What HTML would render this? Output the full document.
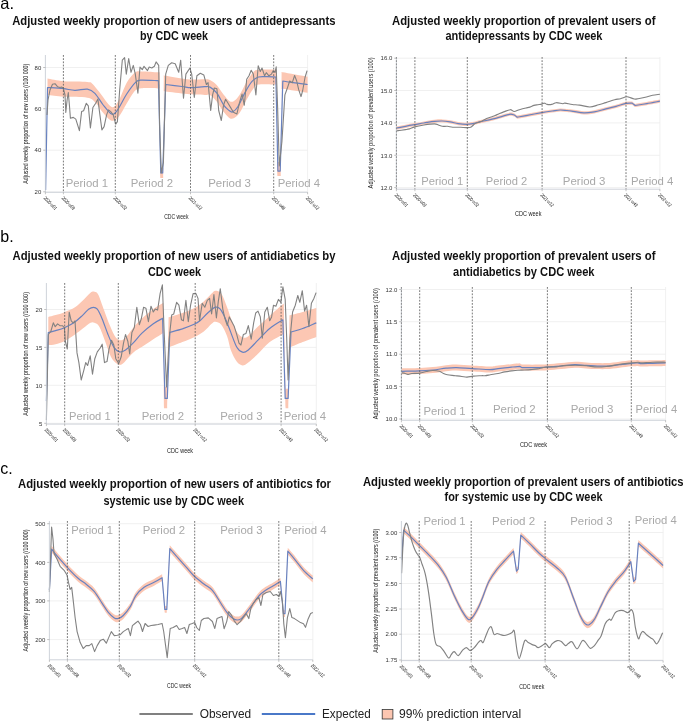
<!DOCTYPE html>
<html><head><meta charset="utf-8"><style>html,body{margin:0;padding:0;background:#fff;width:685px;height:721px;overflow:hidden;position:relative}</style></head>
<body>
<svg width="685" height="721" viewBox="0 0 685 721" font-family='"Liberation Sans", sans-serif' style="position:absolute;left:0;top:0;will-change:transform">
<text x="0.3" y="9" font-size="16.5" fill="#000" text-anchor="start">a.</text>
<text x="0.3" y="242.3" font-size="16" fill="#000" text-anchor="start">b.</text>
<text x="0.3" y="473.6" font-size="16" fill="#000" text-anchor="start">c.</text>
<text x="12.2" y="24.6" font-size="12" font-weight="bold" fill="#111" text-anchor="start" textLength="323.3" lengthAdjust="spacingAndGlyphs">Adjusted weekly proportion of new users of antidepressants</text>
<text x="139.9" y="39.6" font-size="12" font-weight="bold" fill="#111" text-anchor="start" textLength="68.2" lengthAdjust="spacingAndGlyphs">by CDC week</text>
<text x="392" y="24.6" font-size="12" font-weight="bold" fill="#111" text-anchor="start" textLength="263.5" lengthAdjust="spacingAndGlyphs">Adjusted weekly proportion of prevalent users of</text>
<text x="445.5" y="39.6" font-size="12" font-weight="bold" fill="#111" text-anchor="start" textLength="157" lengthAdjust="spacingAndGlyphs">antidepressants by CDC week</text>
<text x="12.5" y="259.7" font-size="12" font-weight="bold" fill="#111" text-anchor="start" textLength="323" lengthAdjust="spacingAndGlyphs">Adjusted weekly proportion of new users of antidiabetics by</text>
<text x="148" y="276" font-size="12" font-weight="bold" fill="#111" text-anchor="start" textLength="53" lengthAdjust="spacingAndGlyphs">CDC week</text>
<text x="392" y="260.2" font-size="12" font-weight="bold" fill="#111" text-anchor="start" textLength="263.5" lengthAdjust="spacingAndGlyphs">Adjusted weekly proportion of prevalent users of</text>
<text x="453" y="275.5" font-size="12" font-weight="bold" fill="#111" text-anchor="start" textLength="141.5" lengthAdjust="spacingAndGlyphs">antidiabetics by CDC week</text>
<text x="18" y="488.2" font-size="12" font-weight="bold" fill="#111" text-anchor="start" textLength="313" lengthAdjust="spacingAndGlyphs">Adjusted weekly proportion of new users of antibiotics for</text>
<text x="103.5" y="504.5" font-size="12" font-weight="bold" fill="#111" text-anchor="start" textLength="140.5" lengthAdjust="spacingAndGlyphs">systemic use by CDC week</text>
<text x="363" y="485.7" font-size="12" font-weight="bold" fill="#111" text-anchor="start" textLength="320.5" lengthAdjust="spacingAndGlyphs">Adjusted weekly proportion of prevalent users of antibiotics</text>
<text x="444.5" y="501.2" font-size="12" font-weight="bold" fill="#111" text-anchor="start" textLength="158" lengthAdjust="spacingAndGlyphs">for systemic use by CDC week</text>
<line x1="45.4" y1="191.8" x2="307.6" y2="191.8" stroke="#ececec" stroke-width="0.8"/>
<line x1="45.4" y1="150.2" x2="307.6" y2="150.2" stroke="#ececec" stroke-width="0.8"/>
<line x1="45.4" y1="108.7" x2="307.6" y2="108.7" stroke="#ececec" stroke-width="0.8"/>
<line x1="45.4" y1="67.5" x2="307.6" y2="67.5" stroke="#ececec" stroke-width="0.8"/>
<line x1="307.6" y1="55" x2="307.6" y2="192.3" stroke="#ececec" stroke-width="0.8"/>
<path d="M47.5,78.6 C50.2,79 57.1,80.8 63.7,81.3 C70.3,81.8 82.5,81.5 87.3,81.9 C92.1,82.3 90.6,82.2 92.6,83.9 C94.6,85.6 95.9,88 99.1,91.8 C102.3,95.6 108.3,105.5 111.6,106.9 C114.9,108.3 116.3,104.3 118.8,100.3 C121.3,96.3 124,87.4 126.7,82.7 C129.5,78 132.7,74.2 135.3,72.3 C137.9,70.4 138.5,71.5 142.3,71.5 C146.1,71.5 155,72.2 157.9,72.3 C160.8,72.4 159.4,72.3 159.7,72.3 L159.7,72.3 C159.8,88.2 160.2,151.8 160.3,167.7 L160.3,167.7 C160.8,167.7 162.7,167.7 163.2,167.7 L163.2,167.7 C163.3,152.4 163.7,91.1 163.8,75.8 L163.8,75.8 C164.1,75.8 161.8,75.2 165.7,75.8 C169.6,76.4 180.8,78.7 187.3,79.3 C193.8,79.9 200.9,79.2 204.7,79.3 C208.5,79.4 208,79.1 210,80.1 C212,81.1 214.6,82.8 216.9,85.3 C219.2,87.8 221.4,92.2 223.9,94.9 C226.4,97.7 229.1,101.8 231.7,101.8 C234.3,101.8 237.1,98.2 239.5,94.9 C241.9,91.6 244.1,85.7 246.4,81.9 C248.7,78.1 251.3,74.3 253.3,72.3 C255.3,70.3 254.7,70.1 258.5,69.7 C262.3,69.3 272.8,69.7 275.9,69.7 C278.9,69.7 276.6,69.7 276.8,69.7 L276.8,69.7 C276.9,85.1 277.3,146.6 277.4,162 L277.4,162 C278,162 280.2,162 280.8,162 L280.8,162 C280.9,147.1 281.5,87.2 281.6,72.3 L281.6,72.3 C281.8,72.3 278.5,71.6 282.8,72.3 C287.1,73 303.5,76 307.6,76.7 L307.6,92.8 C303.5,92.1 287.1,89.5 282.8,88.8 C278.5,88.1 281.8,88.8 281.6,88.8 L281.6,88.8 C281.5,103.3 280.9,161.5 280.8,176 L280.8,176 C280.2,176 278,176 277.4,176 L277.4,176 C277.3,160.8 276.9,99.8 276.8,84.5 L276.8,84.5 C276.6,84.5 278.9,84.5 275.9,84.5 C272.8,84.5 262.3,83.8 258.5,84.5 C254.7,85.2 255.3,86.2 253.3,88.8 C251.3,91.4 248.7,96 246.4,100.1 C244.1,104.1 241.9,110 239.5,113.1 C237.1,116.2 234.3,118.9 231.7,118.8 C229.1,118.7 226.4,115 223.9,112.2 C221.4,109.4 219.2,104.7 216.9,101.8 C214.6,98.9 212,96.1 210,94.9 C208,93.8 208.5,95.1 204.7,94.9 C200.9,94.8 193.8,94.6 187.3,94 C180.8,93.4 169.6,91.8 165.7,91.4 C161.8,91 164.1,91.4 163.8,91.4 L163.8,91.4 C163.7,105.8 163.3,163.6 163.2,178 L163.2,178 C162.7,178 160.8,178 160.3,178 L160.3,178 C160.2,163.1 159.8,103.4 159.7,88.5 L159.7,88.5 C159.4,88.5 160.8,88.5 157.9,88.5 C155,88.5 146.1,87.9 142.3,88.2 C138.5,88.5 137.9,88 135.3,90.5 C132.7,93 129.5,99.1 126.7,103.5 C124,107.9 121.3,113.9 118.8,116.8 C116.3,119.7 114.2,121.4 111.6,120.7 C109,120 105.8,115.9 103.1,112.8 C100.4,109.7 97.8,104.8 95.2,102.3 C92.6,99.8 92.5,98.6 87.3,97.7 C82,96.8 70.3,97.2 63.7,96.8 C57.1,96.4 50.2,95.4 47.5,95.1 Z" fill="#fcc7b3"/>
<path d="M45.6,190 C45.9,172.9 47.2,104.6 47.5,87.5 L47.5,87.5 C50.1,87.7 58.7,88.2 63.3,88.7 C67.9,89.2 70.9,90.2 74.9,90.3 C78.9,90.4 84.1,88.7 87.4,89.2 C90.7,89.7 92.3,90.7 94.9,93.3 C97.5,95.9 100.4,101.5 103.2,105 C106,108.5 109.4,112.9 111.5,114.1 C113.6,115.3 114,114.2 115.7,112.4 C117.4,110.6 119.7,106.4 121.5,103.3 C123.3,100.2 124.4,97.4 126.7,94 C129,90.6 133,85 135.3,82.7 C137.6,80.4 136.7,80.4 140.5,80.1 C144.3,79.8 155.4,80.6 158.4,80.7 L158.4,80.7 C158.8,96.1 160.4,157.5 160.8,172.9 L160.8,172.9 C161.1,172.9 162.4,172.9 162.7,172.9 L162.7,172.9 C163.2,158.2 165.2,99.2 165.7,84.5 L165.7,84.5 C168.4,84.8 177.9,86 182.1,86.5 C186.3,87 187,87.6 190.8,87.6 C194.6,87.6 201.5,86.8 204.7,86.7 C207.9,86.6 208,86 210,87.1 C212,88.2 214.6,90.1 216.9,93.1 C219.2,96.1 221.9,102.4 223.9,105.3 C225.9,108.2 227.7,109.4 229.1,110.5 C230.5,111.6 231.1,112.5 232.5,111.9 C233.9,111.3 235.7,110.1 237.7,107 C239.7,103.9 242.4,97.3 244.7,93.1 C247,88.9 249.3,84.6 251.6,81.9 C253.9,79.2 255.9,77.9 258.5,77 C261.1,76.1 264.3,76.7 267.2,76.7 C270.1,76.7 274.4,77 275.9,77 L275.9,77 C276.2,92.7 277.6,155.4 277.9,171.1 L277.9,171.1 C278.3,171.1 279.8,171.1 280.2,171.1 L280.2,171.1 C280.6,156.1 282.4,96 282.8,81 L282.8,81 C284.5,81.3 289.1,82.1 293.2,82.7 C297.3,83.3 305.2,84.2 307.6,84.5" fill="none" stroke="#6882c0" stroke-width="1.2" stroke-linejoin="round"/>
<polyline points="47,115 48,100 50,90 52.5,84.2 55,83.7 57.5,86.7 60,87.5 61.6,87 63.3,88.3 65,95 65.8,112.4 67.1,100 68.3,92.5 69.6,107.5 70.4,118.3 73.3,117.4 75.8,119.1 79.4,130.7 81.6,111.6 83.6,110.8 86.3,103.3 88.3,105.8 90.4,127.9 92.9,107.5 95.7,103.3 97.9,99.1 99.9,114.9 101.9,129.9 104.1,126.6 106.6,114.9 108.5,109.9 110.7,111.6 113.2,114.9 115.7,124.1 117.4,121.6 119.7,89.7 122.3,60.2 124.6,57.6 126.3,74.1 128.7,58.5 131,72.3 133.3,65.4 135.3,74.1 137.9,93.1 140,67.1 142.3,69.7 144,66.3 146.1,68.9 147.5,70.6 149.2,67.1 151.8,68 154.4,66.3 156.1,61.9 158.7,65.4 159.6,124.3 161.3,172.9 163.4,162.5 165.7,74.1 168.3,65.4 171.7,62.8 175.2,63.7 178.7,72.3 180.7,60.2 183.5,98.3 185.9,74.1 189.9,68 191.7,74.1 194.3,97.5 196.9,75.8 200.3,73.2 203.8,74.9 206.4,84.5 208.1,82.7 210.7,110.5 212.6,94.9 214.3,88 216.9,88.8 218.7,110.5 221.3,120.5 223.5,105.3 225.6,99.2 228.2,103.5 230.8,107.9 233.4,112.2 236.9,113.9 239.5,102.7 242.1,94 244.3,105.3 246.7,79.3 249,75.8 251.2,70.3 253.3,74.1 255.9,94.9 258.2,65.7 260.3,71.5 262,68 264.6,75.8 266.3,72.7 268.9,75.8 271.5,74.1 273.3,70.6 275,72.3 276.2,66.8 277.6,107 279.3,165.9 281.9,141.7 284.9,94.9 287.1,88.8 289.7,81 292.3,82.7 294.6,75.5 296.7,81 298.7,89.7 301,96.6 302.7,90.5 305,77.5 307.1,70.6" fill="none" stroke="#828282" stroke-width="1.1" stroke-linejoin="round"/>
<line x1="63.4" y1="55" x2="63.4" y2="192.3" stroke="#606060" stroke-width="0.85" stroke-dasharray="1.8,1.4"/>
<line x1="115.3" y1="55" x2="115.3" y2="192.3" stroke="#606060" stroke-width="0.85" stroke-dasharray="1.8,1.4"/>
<line x1="190.5" y1="55" x2="190.5" y2="192.3" stroke="#606060" stroke-width="0.85" stroke-dasharray="1.8,1.4"/>
<line x1="273.7" y1="55" x2="273.7" y2="192.3" stroke="#606060" stroke-width="0.85" stroke-dasharray="1.8,1.4"/>
<line x1="45.4" y1="55" x2="45.4" y2="192.3" stroke="#c9ced6" stroke-width="0.9"/>
<line x1="45.4" y1="192.3" x2="307.6" y2="192.3" stroke="#c9ced6" stroke-width="0.9"/>
<line x1="43.2" y1="191.8" x2="45.4" y2="191.8" stroke="#999" stroke-width="0.6"/>
<text x="41.3" y="194" font-size="6" fill="#333" text-anchor="end">20</text>
<line x1="43.2" y1="150.2" x2="45.4" y2="150.2" stroke="#999" stroke-width="0.6"/>
<text x="41.3" y="152.4" font-size="6" fill="#333" text-anchor="end">40</text>
<line x1="43.2" y1="108.7" x2="45.4" y2="108.7" stroke="#999" stroke-width="0.6"/>
<text x="41.3" y="110.9" font-size="6" fill="#333" text-anchor="end">60</text>
<line x1="43.2" y1="67.5" x2="45.4" y2="67.5" stroke="#999" stroke-width="0.6"/>
<text x="41.3" y="69.7" font-size="6" fill="#333" text-anchor="end">80</text>
<line x1="45.4" y1="192.3" x2="45.4" y2="194.3" stroke="#999" stroke-width="0.6"/>
<text x="0" y="0" font-size="5.2" fill="#111" textLength="16.8" lengthAdjust="spacingAndGlyphs" transform="translate(43.2,198.5) rotate(45)">2020-w01</text>
<line x1="63.4" y1="192.3" x2="63.4" y2="194.3" stroke="#999" stroke-width="0.6"/>
<text x="0" y="0" font-size="5.2" fill="#111" textLength="16.8" lengthAdjust="spacingAndGlyphs" transform="translate(61.2,198.5) rotate(45)">2020-w09</text>
<line x1="115.3" y1="192.3" x2="115.3" y2="194.3" stroke="#999" stroke-width="0.6"/>
<text x="0" y="0" font-size="5.2" fill="#111" textLength="16.8" lengthAdjust="spacingAndGlyphs" transform="translate(113.1,198.5) rotate(45)">2020-w32</text>
<line x1="190.5" y1="192.3" x2="190.5" y2="194.3" stroke="#999" stroke-width="0.6"/>
<text x="0" y="0" font-size="5.2" fill="#111" textLength="16.8" lengthAdjust="spacingAndGlyphs" transform="translate(188.3,198.5) rotate(45)">2021-w12</text>
<line x1="273.7" y1="192.3" x2="273.7" y2="194.3" stroke="#999" stroke-width="0.6"/>
<text x="0" y="0" font-size="5.2" fill="#111" textLength="16.8" lengthAdjust="spacingAndGlyphs" transform="translate(271.5,198.5) rotate(45)">2021-w48</text>
<line x1="307.6" y1="192.3" x2="307.6" y2="194.3" stroke="#999" stroke-width="0.6"/>
<text x="0" y="0" font-size="5.2" fill="#111" textLength="16.8" lengthAdjust="spacingAndGlyphs" transform="translate(305.4,198.5) rotate(45)">2022-w12</text>
<text x="0" y="0" font-size="6.6" fill="#222" text-anchor="middle" textLength="120" lengthAdjust="spacingAndGlyphs" transform="translate(27.7,123.7) rotate(-90)">Adjusted weekly proportion of new users (/100 000)</text>
<text x="65.7" y="187" font-size="11.6" fill="#a9a9a9" text-anchor="start" textLength="42.3" lengthAdjust="spacingAndGlyphs">Period 1</text>
<text x="130.7" y="187" font-size="11.6" fill="#a9a9a9" text-anchor="start" textLength="42.3" lengthAdjust="spacingAndGlyphs">Period 2</text>
<text x="208.2" y="187" font-size="11.6" fill="#a9a9a9" text-anchor="start" textLength="42.8" lengthAdjust="spacingAndGlyphs">Period 3</text>
<text x="277.7" y="187" font-size="11.6" fill="#a9a9a9" text-anchor="start" textLength="42.3" lengthAdjust="spacingAndGlyphs">Period 4</text>
<text x="164.2" y="219.4" font-size="6.3" fill="#222" text-anchor="start" textLength="24.3" lengthAdjust="spacingAndGlyphs">CDC week</text>
<line x1="396.4" y1="187.6" x2="659.9" y2="187.6" stroke="#ececec" stroke-width="0.8"/>
<line x1="396.4" y1="155.3" x2="659.9" y2="155.3" stroke="#ececec" stroke-width="0.8"/>
<line x1="396.4" y1="122.9" x2="659.9" y2="122.9" stroke="#ececec" stroke-width="0.8"/>
<line x1="396.4" y1="90.5" x2="659.9" y2="90.5" stroke="#ececec" stroke-width="0.8"/>
<line x1="396.4" y1="58.2" x2="659.9" y2="58.2" stroke="#ececec" stroke-width="0.8"/>
<line x1="659.9" y1="57" x2="659.9" y2="189.2" stroke="#ececec" stroke-width="0.8"/>
<path d="M396.4,126.6 C397.9,126.3 402.4,125.3 405.5,124.7 C408.6,124.1 411.6,123.7 414.7,123.1 C417.8,122.6 420.6,122 423.9,121.4 C427.2,120.9 431.3,120.1 434.4,119.8 C437.5,119.5 439.7,119.3 442.3,119.4 C444.9,119.5 447.6,119.9 450.2,120.3 C452.8,120.7 455.4,121.6 458.1,122 C460.8,122.4 464,122.7 466.6,122.7 C469.2,122.7 471.5,122.2 473.8,121.8 C476.1,121.4 477.2,120.9 480.4,120.1 C483.6,119.4 488.8,118.4 493.1,117.3 C497.4,116.2 503.3,114.4 506.3,113.6 C509.3,112.8 509.5,112.6 510.9,112.6 C512.2,112.6 513.8,113.3 514.4,113.4 L514.4,113.4 C514.9,113.8 516.7,115.2 517.2,115.6 L517.2,115.6 C518.7,115.3 521.9,114.8 526,114 C530.1,113.2 537.4,111.8 541.8,111 C546.2,110.2 549.2,109.8 552.3,109.4 C555.3,109 557.6,108.5 560.1,108.4 C562.6,108.3 564.7,108.7 567,108.9 C569.3,109.1 571,109.4 573.8,109.8 C576.6,110.2 580.6,111.1 584,111.2 C587.4,111.3 590.6,110.8 594.2,110.2 C597.9,109.6 602.2,108.2 605.9,107.3 C609.5,106.4 612.7,105.6 616.1,104.7 C619.5,103.8 623.6,102.3 626.3,101.8 C629,101.3 631.2,101.5 632.2,101.5 L632.2,101.5 C632.7,101.9 634.6,103.5 635.1,103.9 L635.1,103.9 C637,103.6 642.7,102.7 646.8,102 C650.9,101.3 657.7,100 659.9,99.6 L659.9,102.8 C657.7,103.2 650.9,104.5 646.8,105.2 C642.7,105.9 637,106.8 635.1,107.1 L635.1,107.1 C634.6,106.7 632.7,105.1 632.2,104.7 L632.2,104.7 C631.2,104.7 629,104.5 626.3,105 C623.6,105.5 619.5,107 616.1,107.9 C612.7,108.8 609.5,109.6 605.9,110.5 C602.2,111.4 597.9,112.8 594.2,113.4 C590.6,114 587.4,114.5 584,114.4 C580.6,114.3 576.6,113.4 573.8,113 C571,112.6 569.3,112.3 567,112.1 C564.7,111.9 562.6,111.5 560.1,111.6 C557.6,111.7 555.3,112.2 552.3,112.6 C549.2,113 546.2,113.4 541.8,114.2 C537.4,115 530.1,116.4 526,117.2 C521.9,118 518.7,118.5 517.2,118.8 L517.2,118.8 C516.7,118.4 514.9,117 514.4,116.6 L514.4,116.6 C513.8,116.5 512.2,115.8 510.9,115.8 C509.5,115.8 509.3,116 506.3,116.8 C503.3,117.6 497.4,119.4 493.1,120.5 C488.8,121.6 483.6,122.5 480.4,123.3 C477.2,124 476.1,124.6 473.8,125 C471.5,125.4 469.2,125.9 466.6,125.9 C464,125.9 460.8,125.6 458.1,125.2 C455.4,124.8 452.8,123.9 450.2,123.5 C447.6,123.1 444.9,122.7 442.3,122.6 C439.7,122.5 437.5,122.7 434.4,123 C431.3,123.3 427.2,124 423.9,124.6 C420.6,125.1 417.8,125.8 414.7,126.3 C411.6,126.8 408.6,127.3 405.5,127.9 C402.4,128.5 397.9,129.5 396.4,129.8 Z" fill="#fcc7b3"/>
<path d="M396.4,128.2 C397.9,127.9 402.4,126.9 405.5,126.3 C408.6,125.7 411.6,125.2 414.7,124.7 C417.8,124.2 420.6,123.5 423.9,123 C427.2,122.5 431.3,121.7 434.4,121.4 C437.5,121.1 439.7,120.9 442.3,121 C444.9,121.1 447.6,121.5 450.2,121.9 C452.8,122.3 455.4,123.2 458.1,123.6 C460.8,124 464,124.3 466.6,124.3 C469.2,124.3 471.5,123.8 473.8,123.4 C476.1,123 477.2,122.5 480.4,121.7 C483.6,121 488.8,120 493.1,118.9 C497.4,117.8 503.3,116 506.3,115.2 C509.3,114.4 509.5,114.2 510.9,114.2 C512.2,114.2 513.8,114.9 514.4,115 L514.4,115 C514.9,115.4 516.7,116.8 517.2,117.2 L517.2,117.2 C518.7,116.9 521.9,116.4 526,115.6 C530.1,114.8 537.4,113.4 541.8,112.6 C546.2,111.8 549.2,111.4 552.3,111 C555.3,110.6 557.6,110.1 560.1,110 C562.6,109.9 564.7,110.3 567,110.5 C569.3,110.7 571,111 573.8,111.4 C576.6,111.8 580.6,112.7 584,112.8 C587.4,112.9 590.6,112.4 594.2,111.8 C597.9,111.2 602.2,109.8 605.9,108.9 C609.5,108 612.7,107.2 616.1,106.3 C619.5,105.4 623.6,103.9 626.3,103.4 C629,102.9 631.2,103.1 632.2,103.1 L632.2,103.1 C632.7,103.5 634.6,105.1 635.1,105.5 L635.1,105.5 C637,105.2 642.7,104.3 646.8,103.6 C650.9,102.9 657.7,101.6 659.9,101.2" fill="none" stroke="#6882c0" stroke-width="1.2" stroke-linejoin="round"/>
<path d="M396.4,130.9 C397.9,130.7 403.3,129.9 405.5,129.6 C407.7,129.3 408,129.3 409.5,128.9 C411,128.5 412.3,127.6 414.7,126.9 C417.1,126.2 420.6,125.5 423.9,125 C427.2,124.5 432,123.9 434.4,123.9 C436.8,123.9 437.1,124.6 438.4,125 C439.7,125.4 440.8,126.1 442.3,126.3 C443.8,126.5 445.9,126.1 447.6,126.3 C449.4,126.5 450.6,127 452.8,127.2 C455,127.4 458.4,127.2 460.7,127.3 C463,127.4 464.9,127.7 466.6,127.6 C468.4,127.5 469.8,127.6 471.2,126.9 C472.6,126.2 473.6,124.5 475.1,123.6 C476.6,122.7 478.5,122.5 480.4,121.7 C482.3,120.9 484.5,119.4 486.6,118.5 C488.7,117.6 491.4,117 493.1,116.3 C494.9,115.6 495.3,115.3 497.1,114.6 C498.9,113.9 501.5,112.7 503.7,111.9 C505.9,111.1 508.4,109.8 510.2,109.7 C511.9,109.6 512.7,111.5 514.2,111.5 C515.7,111.5 517.4,110.3 519.4,109.7 C521.4,109.1 524.2,108.4 526,108 C527.8,107.6 528.6,107.5 529.9,107.1 C531.2,106.7 532.6,105.8 533.9,105.4 C535.2,105 536.5,104.9 537.8,104.7 C539.1,104.5 540.7,104.4 541.8,104.1 C542.9,103.8 543.5,103 544.4,103.1 C545.3,103.1 545.8,104.2 547,104.4 C548.2,104.6 550.1,104.7 551.6,104.4 C553.1,104.1 554.3,102.8 556.2,102.7 C558.1,102.6 561.3,103.6 562.8,103.7 C564.3,103.8 563.4,103 565,103.1 C566.6,103.2 569.9,104.2 572.3,104.5 C574.7,104.8 576.7,104.7 579.6,105.1 C582.5,105.5 586.6,107 589.8,107 C593,107 595.9,105.5 598.6,104.8 C601.3,104.1 603.2,103.4 605.9,102.6 C608.6,101.8 612.2,100.3 614.6,99.7 C617,99.1 618.5,99.2 620.5,98.7 C622.5,98.2 624.8,97 626.3,96.8 C627.8,96.5 627.9,96.8 629.2,97.2 C630.5,97.6 632.8,98.8 634.3,99 C635.8,99.2 636.2,99 638,98.7 C639.8,98.4 642.9,97.8 645.3,97.2 C647.7,96.6 650.2,95.8 652.6,95.3 C655,94.8 658.7,94.5 659.9,94.3" fill="none" stroke="#828282" stroke-width="1.15" stroke-linejoin="round"/>
<line x1="414.9" y1="57" x2="414.9" y2="189.2" stroke="#606060" stroke-width="0.85" stroke-dasharray="1.8,1.4"/>
<line x1="467.3" y1="57" x2="467.3" y2="189.2" stroke="#606060" stroke-width="0.85" stroke-dasharray="1.8,1.4"/>
<line x1="542.1" y1="57" x2="542.1" y2="189.2" stroke="#606060" stroke-width="0.85" stroke-dasharray="1.8,1.4"/>
<line x1="626" y1="57" x2="626" y2="189.2" stroke="#606060" stroke-width="0.85" stroke-dasharray="1.8,1.4"/>
<line x1="396.4" y1="57" x2="396.4" y2="189.2" stroke="#c9ced6" stroke-width="0.9"/>
<line x1="396.4" y1="57" x2="396.4" y2="189.2" stroke="#777" stroke-width="0.8" stroke-dasharray="1.8,1.4"/>
<line x1="396.4" y1="189.2" x2="659.9" y2="189.2" stroke="#c9ced6" stroke-width="0.9"/>
<line x1="394.2" y1="187.6" x2="396.4" y2="187.6" stroke="#999" stroke-width="0.6"/>
<text x="392.3" y="189.8" font-size="6" fill="#333" text-anchor="end">12.0</text>
<line x1="394.2" y1="155.3" x2="396.4" y2="155.3" stroke="#999" stroke-width="0.6"/>
<text x="392.3" y="157.5" font-size="6" fill="#333" text-anchor="end">13.0</text>
<line x1="394.2" y1="122.9" x2="396.4" y2="122.9" stroke="#999" stroke-width="0.6"/>
<text x="392.3" y="125.1" font-size="6" fill="#333" text-anchor="end">14.0</text>
<line x1="394.2" y1="90.5" x2="396.4" y2="90.5" stroke="#999" stroke-width="0.6"/>
<text x="392.3" y="92.7" font-size="6" fill="#333" text-anchor="end">15.0</text>
<line x1="394.2" y1="58.2" x2="396.4" y2="58.2" stroke="#999" stroke-width="0.6"/>
<text x="392.3" y="60.4" font-size="6" fill="#333" text-anchor="end">16.0</text>
<line x1="396.4" y1="189.2" x2="396.4" y2="191.2" stroke="#999" stroke-width="0.6"/>
<text x="0" y="0" font-size="5.2" fill="#111" textLength="16.8" lengthAdjust="spacingAndGlyphs" transform="translate(394.2,195.4) rotate(45)">2020-w01</text>
<line x1="414.9" y1="189.2" x2="414.9" y2="191.2" stroke="#999" stroke-width="0.6"/>
<text x="0" y="0" font-size="5.2" fill="#111" textLength="16.8" lengthAdjust="spacingAndGlyphs" transform="translate(412.7,195.4) rotate(45)">2020-w09</text>
<line x1="467.3" y1="189.2" x2="467.3" y2="191.2" stroke="#999" stroke-width="0.6"/>
<text x="0" y="0" font-size="5.2" fill="#111" textLength="16.8" lengthAdjust="spacingAndGlyphs" transform="translate(465.1,195.4) rotate(45)">2020-w32</text>
<line x1="542.1" y1="189.2" x2="542.1" y2="191.2" stroke="#999" stroke-width="0.6"/>
<text x="0" y="0" font-size="5.2" fill="#111" textLength="16.8" lengthAdjust="spacingAndGlyphs" transform="translate(539.9,195.4) rotate(45)">2021-w12</text>
<line x1="626" y1="189.2" x2="626" y2="191.2" stroke="#999" stroke-width="0.6"/>
<text x="0" y="0" font-size="5.2" fill="#111" textLength="16.8" lengthAdjust="spacingAndGlyphs" transform="translate(623.8,195.4) rotate(45)">2021-w49</text>
<line x1="659.9" y1="189.2" x2="659.9" y2="191.2" stroke="#999" stroke-width="0.6"/>
<text x="0" y="0" font-size="5.2" fill="#111" textLength="16.8" lengthAdjust="spacingAndGlyphs" transform="translate(657.7,195.4) rotate(45)">2022-w12</text>
<text x="0" y="0" font-size="6.6" fill="#222" text-anchor="middle" textLength="131" lengthAdjust="spacingAndGlyphs" transform="translate(373.1,122.9) rotate(-90)">Adjusted weekly proportion of prevalent users (/100)</text>
<text x="421.3" y="185.3" font-size="11.6" fill="#a9a9a9" text-anchor="start" textLength="41.9" lengthAdjust="spacingAndGlyphs">Period 1</text>
<text x="485.8" y="185.3" font-size="11.6" fill="#a9a9a9" text-anchor="start" textLength="41.5" lengthAdjust="spacingAndGlyphs">Period 2</text>
<text x="562.8" y="185.3" font-size="11.6" fill="#a9a9a9" text-anchor="start" textLength="42.7" lengthAdjust="spacingAndGlyphs">Period 3</text>
<text x="631" y="185.3" font-size="11.6" fill="#a9a9a9" text-anchor="start" textLength="42.3" lengthAdjust="spacingAndGlyphs">Period 4</text>
<text x="515" y="215.5" font-size="6.3" fill="#222" text-anchor="start" textLength="26.4" lengthAdjust="spacingAndGlyphs">CDC week</text>
<line x1="46.4" y1="423.3" x2="316.3" y2="423.3" stroke="#ececec" stroke-width="0.8"/>
<line x1="46.4" y1="385.3" x2="316.3" y2="385.3" stroke="#ececec" stroke-width="0.8"/>
<line x1="46.4" y1="347.4" x2="316.3" y2="347.4" stroke="#ececec" stroke-width="0.8"/>
<line x1="46.4" y1="309.5" x2="316.3" y2="309.5" stroke="#ececec" stroke-width="0.8"/>
<line x1="316.3" y1="283" x2="316.3" y2="424.1" stroke="#ececec" stroke-width="0.8"/>
<path d="M48.3,317 C49.5,316.7 52.9,315.9 55.6,315.1 C58.3,314.3 61.2,313.5 64.4,312.2 C67.6,310.9 71.9,309.2 75,307.3 C78.1,305.4 80.2,302.9 82.8,300.5 C85.4,298.1 88.6,294.2 90.5,292.8 C92.4,291.4 93.1,291.5 94.4,291.8 C95.7,292.1 96.7,291.6 98.3,294.7 C99.9,297.8 102.1,305 104.1,310.2 C106,315.4 108,321.2 110,325.7 C112,330.2 113.9,335 115.8,337.4 C117.7,339.8 119.7,340.6 121.6,340.3 C123.5,340 125.3,337.7 127.4,335.4 C129.5,333.1 131.6,329.5 134,326.7 C136.4,323.9 138.5,321.7 141.7,318.8 C144.9,315.9 149.8,311.7 153.3,309.1 C156.8,306.5 160.9,304.3 162.6,303.3 C164.3,302.3 163.2,303.3 163.3,303.3 L163.3,303.3 C163.4,317.2 163.9,372.9 164,386.8 L164,386.8 C164.5,386.8 166.7,386.8 167.2,386.8 L167.2,386.8 C167.4,375.1 168.4,328.5 168.6,316.9 L168.6,316.9 C168.8,316.9 167.5,317.5 169.8,316.9 C172.1,316.2 178.4,314.4 182.4,313 C186.4,311.6 190.5,310.1 194.1,308.2 C197.7,306.3 200.9,303.8 203.8,301.4 C206.7,299 209.7,295.4 211.6,293.6 C213.5,291.8 213.8,290.7 215.4,290.7 C217,290.7 219.4,290.9 221.3,293.6 C223.2,296.4 225.5,303.1 227.1,307.2 C228.7,311.2 229.2,313.8 230.8,317.9 C232.4,321.9 234.8,328.3 236.7,331.5 C238.6,334.7 240.6,336.5 242.5,337.3 C244.4,338.1 245.7,338.1 248.3,336.3 C250.9,334.5 254.4,330 258,326.6 C261.6,323.2 265.6,319.6 269.7,315.9 C273.8,312.2 280.5,306.2 282.9,304.3 C285.2,302.4 283.6,304.3 283.8,304.3 L283.8,304.3 C284.1,318.4 285.3,374.6 285.6,388.7 L285.6,388.7 C286.1,388.7 287.9,388.7 288.3,388.7 L288.3,388.7 C288.5,376.4 289.3,327.3 289.5,315 L289.5,315 C289.8,315 288.8,315.5 291,315 C293.2,314.5 298.5,313.2 302.7,312 C306.9,310.8 314,308.7 316.3,308 L316.3,337 C314,337.9 306.9,340.4 302.7,342.1 C298.5,343.8 293.2,346.2 291,347 C288.8,347.8 289.8,347 289.5,347 L289.5,347 C289.3,357.2 288.5,398 288.3,408.2 L288.3,408.2 C287.9,408.2 286.1,408.2 285.6,408.2 L285.6,408.2 C285.3,395.9 284.1,346.7 283.8,334.4 L283.8,334.4 C283.6,334.4 285.2,333.1 282.9,334.4 C280.5,335.7 273.8,338.9 269.7,342.1 C265.6,345.3 261.6,350.4 258,353.8 C254.4,357.2 250.9,360.6 248.3,362.5 C245.7,364.4 244.4,365.5 242.5,365.4 C240.6,365.2 238.6,364.2 236.7,361.6 C234.8,359 232.4,354.1 230.8,349.9 C229.2,345.7 228.7,340.5 227.1,336.3 C225.5,332.1 223.2,327.1 221.3,324.7 C219.4,322.3 217,321.9 215.4,321.7 C213.8,321.5 213.5,322.1 211.6,323.7 C209.7,325.3 206.7,329.2 203.8,331.5 C200.9,333.8 197.7,335.5 194.1,337.3 C190.5,339.1 186.4,340.5 182.4,342.1 C178.4,343.7 172.1,346.2 169.8,347 C167.5,347.8 168.8,347 168.6,347 L168.6,347 C168.4,357.2 167.4,398 167.2,408.2 L167.2,408.2 C166.7,408.2 164.5,408.2 164,408.2 L164,408.2 C163.9,395.7 163.4,345.9 163.3,333.4 L163.3,333.4 C163.2,333.4 164.3,332.4 162.6,333.4 C160.9,334.4 156.8,336.9 153.3,339.2 C149.8,341.5 144.9,344.9 141.7,347 C138.5,349.1 136.4,349.9 134,351.9 C131.6,353.8 129.5,356.6 127.4,358.7 C125.3,360.8 123.4,363.7 121.6,364.5 C119.8,365.3 118.5,364.8 116.7,363.5 C114.9,362.2 112.8,360.5 110.9,356.8 C109,353.1 107,346.2 105.1,341.2 C103.2,336.2 101.1,329.8 99.3,326.7 C97.5,323.6 95.9,323.4 94.4,322.8 C92.9,322.2 92.4,321.8 90.5,322.8 C88.6,323.8 85.4,326.7 82.8,328.6 C80.2,330.6 78.1,332.4 75,334.5 C71.9,336.6 67.6,339.6 64.4,341.2 C61.2,342.8 58.3,343.5 55.6,344.2 C52.9,344.9 49.5,345 48.3,345.1 Z" fill="#fcc7b3"/>
<path d="M46.4,401 C46.7,389.6 48,343.9 48.3,332.5 L48.3,332.5 C49.5,332.2 52.9,331.4 55.6,330.6 C58.3,329.8 61.2,329.1 64.4,327.7 C67.6,326.2 71.9,324 75,321.9 C78.1,319.8 80.5,317.2 82.8,315.1 C85.1,313 86.8,310.5 88.6,309.2 C90.4,307.9 92,307.3 93.5,307.3 C95,307.3 95.8,307.3 97.3,309.2 C98.8,311.1 100.4,314.7 102.2,318.9 C104,323.1 106.1,329.8 108,334.5 C109.9,339.2 111.9,344.2 113.8,347.1 C115.7,350 117.6,351.4 119.6,351.9 C121.5,352.4 123.1,351.6 125.5,350 C127.9,348.4 131.3,345 134,342.2 C136.7,339.4 138.5,336.5 141.7,333.4 C144.9,330.3 149.8,326.2 153.3,323.7 C156.8,321.2 161.1,319.2 162.6,318.3 L162.6,318.3 C163,331.6 164.6,385 165,398.4 L165,398.4 C165.4,398.4 166.9,398.4 167.3,398.4 L167.3,398.4 C167.7,387.4 169.4,343.4 169.8,332.4 L169.8,332.4 C171.9,331.8 178.4,330.2 182.4,328.9 C186.4,327.5 191.2,325.6 194.1,324.3 C197,323 197.6,322.7 199.9,320.8 C202.2,318.9 205.1,315.3 207.7,313 C210.3,310.7 213.3,307.8 215.4,307.2 C217.5,306.6 218.7,307.3 220.3,309.1 C221.9,310.9 223.3,314 225.1,317.9 C226.8,321.8 228.9,327.5 230.8,332.4 C232.7,337.2 234.8,343.7 236.7,347 C238.6,350.3 240.6,351.7 242.5,352.2 C244.4,352.7 245.7,351.9 248.3,349.9 C250.9,347.9 254.4,343.8 258,340.2 C261.6,336.6 265.6,331.9 269.7,328.5 C273.8,325.1 280.7,321.2 282.9,319.8 L282.9,319.8 C283.3,332.9 284.8,385.3 285.2,398.4 L285.2,398.4 C285.7,398.4 287.6,398.4 288.1,398.4 L288.1,398.4 C288.6,387.3 290.5,343.1 291,332 L291,332 C292.9,331.4 298.5,330 302.7,328.5 C306.9,327 314,323.8 316.3,322.9" fill="none" stroke="#6882c0" stroke-width="1.2" stroke-linejoin="round"/>
<polyline points="46.4,420 48.3,334.5 50.8,331.5 53.3,322.8 55.2,326.7 57.6,323.8 59.9,325.7 62.4,325.7 64.4,327.7 65.3,341.2 67.3,349 69.2,312.2 71.2,320.9 73.1,322.8 75,320.9 77,352.9 78.9,362.6 81.2,380 83.8,370.3 85.7,362.6 87.6,365.5 90.2,355.8 92.5,374.2 94.8,358.7 97.3,351.9 100.2,348 102.2,344.2 104.5,362.6 107,361.6 109,349 111.5,340.3 113.8,345.1 115.8,358.7 118.7,363.5 121.2,356.8 123.5,343.2 125.5,334.5 127.8,341.2 129.7,353.9 131.9,332.4 134.3,327.6 136.8,307.2 139.3,324.7 141.3,318.8 143.6,307.2 145.9,308.2 148.4,321.7 151,306.2 153.3,312 155.2,309.1 157.6,310.1 160.1,293.6 162.4,284.9 164,328.5 166.6,387 169.2,338.3 171.7,315 173.7,314 176.6,302.3 178.9,305.2 181.5,319.8 183.4,320.8 185.9,300.4 188.3,321.7 190.6,305.2 193.1,293.6 196,293.6 198,298.4 199.5,320.8 202.2,303.3 204.8,307.2 207.3,300.4 209.6,298.4 211.6,314 213.9,294.6 216.4,317.9 218.3,301.4 220.3,288.7 222.8,309.1 225,318.8 227.3,325.6 229.3,316.9 231.8,321.7 234.3,326.6 236.7,334.4 239,343.1 240.9,345 243.4,334.4 246,333.4 248.3,325.6 251.2,339.2 253.7,322.7 255.7,313 258,311.1 260.3,316.9 262.3,338.3 264.8,312 267.3,307.2 269.7,320.8 271.6,316.9 273.5,305.2 275.9,306.2 278.4,299.4 280.9,302.3 282.9,286.8 285.2,299.4 286.7,338.3 288.1,380 290,338.3 292.6,312 295.3,305.2 297.8,295.5 299.8,302.3 302.3,290.7 304.6,311.1 306.6,305.2 308.9,326.6 311.4,303.3 313.9,298.4 316.1,292.6" fill="none" stroke="#828282" stroke-width="1.1" stroke-linejoin="round"/>
<line x1="64.7" y1="283" x2="64.7" y2="424.1" stroke="#606060" stroke-width="0.85" stroke-dasharray="1.8,1.4"/>
<line x1="118.3" y1="283" x2="118.3" y2="424.1" stroke="#606060" stroke-width="0.85" stroke-dasharray="1.8,1.4"/>
<line x1="195.2" y1="283" x2="195.2" y2="424.1" stroke="#606060" stroke-width="0.85" stroke-dasharray="1.8,1.4"/>
<line x1="281.1" y1="283" x2="281.1" y2="424.1" stroke="#606060" stroke-width="0.85" stroke-dasharray="1.8,1.4"/>
<line x1="46.4" y1="283" x2="46.4" y2="424.1" stroke="#c9ced6" stroke-width="0.9"/>
<line x1="46.4" y1="424.1" x2="316.3" y2="424.1" stroke="#c9ced6" stroke-width="0.9"/>
<line x1="44.2" y1="423.3" x2="46.4" y2="423.3" stroke="#999" stroke-width="0.6"/>
<text x="42.3" y="425.5" font-size="6" fill="#333" text-anchor="end">5</text>
<line x1="44.2" y1="385.3" x2="46.4" y2="385.3" stroke="#999" stroke-width="0.6"/>
<text x="42.3" y="387.5" font-size="6" fill="#333" text-anchor="end">10</text>
<line x1="44.2" y1="347.4" x2="46.4" y2="347.4" stroke="#999" stroke-width="0.6"/>
<text x="42.3" y="349.6" font-size="6" fill="#333" text-anchor="end">15</text>
<line x1="44.2" y1="309.5" x2="46.4" y2="309.5" stroke="#999" stroke-width="0.6"/>
<text x="42.3" y="311.7" font-size="6" fill="#333" text-anchor="end">20</text>
<line x1="46.4" y1="424.1" x2="46.4" y2="426.1" stroke="#999" stroke-width="0.6"/>
<text x="0" y="0" font-size="5.2" fill="#111" textLength="16.8" lengthAdjust="spacingAndGlyphs" transform="translate(44.2,430.3) rotate(45)">2020-w01</text>
<line x1="64.7" y1="424.1" x2="64.7" y2="426.1" stroke="#999" stroke-width="0.6"/>
<text x="0" y="0" font-size="5.2" fill="#111" textLength="16.8" lengthAdjust="spacingAndGlyphs" transform="translate(62.5,430.3) rotate(45)">2020-w09</text>
<line x1="118.3" y1="424.1" x2="118.3" y2="426.1" stroke="#999" stroke-width="0.6"/>
<text x="0" y="0" font-size="5.2" fill="#111" textLength="16.8" lengthAdjust="spacingAndGlyphs" transform="translate(116.1,430.3) rotate(45)">2020-w32</text>
<line x1="195.2" y1="424.1" x2="195.2" y2="426.1" stroke="#999" stroke-width="0.6"/>
<text x="0" y="0" font-size="5.2" fill="#111" textLength="16.8" lengthAdjust="spacingAndGlyphs" transform="translate(193,430.3) rotate(45)">2021-w12</text>
<line x1="281.1" y1="424.1" x2="281.1" y2="426.1" stroke="#999" stroke-width="0.6"/>
<text x="0" y="0" font-size="5.2" fill="#111" textLength="16.8" lengthAdjust="spacingAndGlyphs" transform="translate(278.9,430.3) rotate(45)">2021-w49</text>
<line x1="316.3" y1="424.1" x2="316.3" y2="426.1" stroke="#999" stroke-width="0.6"/>
<text x="0" y="0" font-size="5.2" fill="#111" textLength="16.8" lengthAdjust="spacingAndGlyphs" transform="translate(314.1,430.3) rotate(45)">2022-w12</text>
<text x="0" y="0" font-size="6.6" fill="#222" text-anchor="middle" textLength="123.7" lengthAdjust="spacingAndGlyphs" transform="translate(27.6,353.9) rotate(-90)">Adjusted weekly proportion of new users (/100 000)</text>
<text x="69.1" y="420" font-size="11.6" fill="#a9a9a9" text-anchor="start" textLength="41.5" lengthAdjust="spacingAndGlyphs">Period 1</text>
<text x="141.7" y="420" font-size="11.6" fill="#a9a9a9" text-anchor="start" textLength="42.3" lengthAdjust="spacingAndGlyphs">Period 2</text>
<text x="220.2" y="420" font-size="11.6" fill="#a9a9a9" text-anchor="start" textLength="42.3" lengthAdjust="spacingAndGlyphs">Period 3</text>
<text x="283.7" y="420" font-size="11.6" fill="#a9a9a9" text-anchor="start" textLength="42.3" lengthAdjust="spacingAndGlyphs">Period 4</text>
<text x="167" y="452.5" font-size="6.3" fill="#222" text-anchor="start" textLength="26" lengthAdjust="spacingAndGlyphs">CDC week</text>
<line x1="401.4" y1="419" x2="665.6" y2="419" stroke="#ececec" stroke-width="0.8"/>
<line x1="401.4" y1="386.5" x2="665.6" y2="386.5" stroke="#ececec" stroke-width="0.8"/>
<line x1="401.4" y1="354.2" x2="665.6" y2="354.2" stroke="#ececec" stroke-width="0.8"/>
<line x1="401.4" y1="321.7" x2="665.6" y2="321.7" stroke="#ececec" stroke-width="0.8"/>
<line x1="401.4" y1="289.5" x2="665.6" y2="289.5" stroke="#ececec" stroke-width="0.8"/>
<line x1="665.6" y1="287" x2="665.6" y2="420.3" stroke="#ececec" stroke-width="0.8"/>
<path d="M401.4,368.3 C404.4,368.2 414.5,368.1 419.7,367.9 C424.9,367.7 428.4,367.4 432.8,367 C437.2,366.6 442.1,365.6 446,365.2 C449.9,364.8 452.1,364.5 456.5,364.6 C460.9,364.7 466.7,365.3 472.3,365.6 C477.9,365.9 485.7,366.6 490,366.6 C494.3,366.6 494.6,366 498.1,365.6 C501.7,365.2 507.7,364.6 511.3,364.2 C514.9,363.8 518.4,363.4 519.8,363.3 L519.8,363.3 C520.1,363.5 521.5,364.4 521.8,364.6 L521.8,364.6 C524.4,364.6 533.3,364.7 537.6,364.6 C541.9,364.5 543.5,364.5 547.4,364.2 C551.3,363.9 556.6,363.4 561.2,363 C565.8,362.6 570.9,361.8 575,361.7 C579.1,361.6 582.4,362.2 586.1,362.4 C589.8,362.6 593.7,363 597.2,363.1 C600.7,363.2 603.2,363.3 606.9,363.1 C610.6,362.9 615.3,362.2 619.4,361.7 C623.5,361.2 628.1,360.6 631.2,360.3 C634.3,360 637,360 638.1,359.9 L638.1,359.9 C638.5,360 639.9,360.5 640.2,360.6 L640.2,360.6 C642.3,360.6 648.5,360.4 652.7,360.3 C656.9,360.2 663.5,360 665.6,359.9 L665.6,365.9 C663.5,366 656.9,366.2 652.7,366.3 C648.5,366.4 642.3,366.6 640.2,366.6 L640.2,366.6 C639.9,366.5 638.5,366 638.1,365.9 L638.1,365.9 C637,366 634.3,366 631.2,366.3 C628.1,366.6 623.5,367.2 619.4,367.7 C615.3,368.2 610.6,368.9 606.9,369.1 C603.2,369.3 600.7,369.2 597.2,369.1 C593.7,369 589.8,368.6 586.1,368.4 C582.4,368.2 579.1,367.6 575,367.7 C570.9,367.8 565.8,368.6 561.2,369 C556.6,369.4 551.3,369.9 547.4,370.2 C543.5,370.5 541.9,370.5 537.6,370.6 C533.3,370.7 524.4,370.6 521.8,370.6 L521.8,370.6 C521.5,370.4 520.1,369.5 519.8,369.3 L519.8,369.3 C518.4,369.4 514.9,369.8 511.3,370.2 C507.7,370.6 501.7,371.2 498.1,371.6 C494.6,372 494.3,372.6 490,372.6 C485.7,372.6 477.9,371.9 472.3,371.6 C466.7,371.3 460.9,370.7 456.5,370.6 C452.1,370.5 449.9,370.8 446,371.2 C442.1,371.6 437.2,372.6 432.8,373 C428.4,373.4 424.9,373.7 419.7,373.9 C414.5,374.1 404.4,374.2 401.4,374.3 Z" fill="#fcc7b3"/>
<path d="M401.4,371.3 C404.4,371.2 414.5,371.1 419.7,370.9 C424.9,370.7 428.4,370.4 432.8,370 C437.2,369.6 442.1,368.6 446,368.2 C449.9,367.8 452.1,367.5 456.5,367.6 C460.9,367.7 466.7,368.3 472.3,368.6 C477.9,368.9 485.7,369.6 490,369.6 C494.3,369.6 494.6,369 498.1,368.6 C501.7,368.2 507.7,367.6 511.3,367.2 C514.9,366.8 518.4,366.4 519.8,366.3 L519.8,366.3 C520.1,366.5 521.5,367.4 521.8,367.6 L521.8,367.6 C524.4,367.6 533.3,367.7 537.6,367.6 C541.9,367.5 543.5,367.5 547.4,367.2 C551.3,366.9 556.6,366.4 561.2,366 C565.8,365.6 570.9,364.8 575,364.7 C579.1,364.6 582.4,365.2 586.1,365.4 C589.8,365.6 593.7,366 597.2,366.1 C600.7,366.2 603.2,366.3 606.9,366.1 C610.6,365.9 615.3,365.2 619.4,364.7 C623.5,364.2 628.1,363.6 631.2,363.3 C634.3,363 637,363 638.1,362.9 L638.1,362.9 C638.5,363 639.9,363.5 640.2,363.6 L640.2,363.6 C642.3,363.6 648.5,363.4 652.7,363.3 C656.9,363.2 663.5,363 665.6,362.9" fill="none" stroke="#6882c0" stroke-width="1.2" stroke-linejoin="round"/>
<path d="M401.4,372.8 C402,372.9 404.1,373.2 405.3,373.5 C406.5,373.8 407.4,374.4 408.5,374.4 C409.6,374.4 409.9,373.7 411.8,373.5 C413.7,373.3 417.3,373.4 419.7,373.1 C422.1,372.8 424.1,371.9 426.3,371.5 C428.5,371.1 430.6,370.5 432.8,370.5 C435,370.5 437.6,370.8 439.4,371.3 C441.2,371.8 442.1,372.9 443.4,373.5 C444.7,374.1 445.3,374.4 447.3,374.8 C449.3,375.2 452.8,375.4 455.2,375.7 C457.6,376 459.8,376.3 461.8,376.5 C463.8,376.7 465,377.2 467,377.1 C469,377 471.2,376.3 473.6,376.1 C476,375.9 479.6,375.8 481.5,375.7 C483.4,375.6 483.5,375.8 485,375.7 C486.5,375.6 488.1,375.2 490.3,374.8 C492.5,374.4 495.7,374 498.1,373.5 C500.5,373 502.5,372.3 504.7,371.9 C506.9,371.5 509.1,371.2 511.3,370.9 C513.5,370.6 515.6,370.3 517.8,370.2 C520,370.1 522.2,370.1 524.4,370 C526.6,369.9 528.8,369.8 531,369.6 C533.2,369.4 535.6,369.2 537.6,368.9 C539.6,368.6 541,367.9 542.8,367.6 C544.5,367.3 545.9,367 548.1,366.9 C550.3,366.8 553.4,367.1 556,366.9 C558.6,366.7 560.6,365.9 563.8,365.6 C567,365.3 571.3,365.2 575,365.2 C578.7,365.2 582.4,365.4 586.1,365.7 C589.8,366 593.7,366.9 597.2,367 C600.7,367.1 603.2,366.8 606.9,366.4 C610.6,365.9 615.3,364.9 619.4,364.3 C623.5,363.7 628.1,363.2 631.2,362.9 C634.3,362.5 636.4,362.2 638.1,362.2 C639.8,362.2 639.2,362.9 641.6,362.9 C644,362.9 648.7,362.3 652.7,362.2 C656.7,362.1 663.5,362.2 665.6,362.2" fill="none" stroke="#828282" stroke-width="1.15" stroke-linejoin="round"/>
<line x1="419.7" y1="287" x2="419.7" y2="420.3" stroke="#606060" stroke-width="0.85" stroke-dasharray="1.8,1.4"/>
<line x1="472.3" y1="287" x2="472.3" y2="420.3" stroke="#606060" stroke-width="0.85" stroke-dasharray="1.8,1.4"/>
<line x1="547.4" y1="287" x2="547.4" y2="420.3" stroke="#606060" stroke-width="0.85" stroke-dasharray="1.8,1.4"/>
<line x1="631.3" y1="287" x2="631.3" y2="420.3" stroke="#606060" stroke-width="0.85" stroke-dasharray="1.8,1.4"/>
<line x1="401.4" y1="287" x2="401.4" y2="420.3" stroke="#c9ced6" stroke-width="0.9"/>
<line x1="401.4" y1="287" x2="401.4" y2="420.3" stroke="#777" stroke-width="0.8" stroke-dasharray="1.8,1.4"/>
<line x1="401.4" y1="420.3" x2="665.6" y2="420.3" stroke="#c9ced6" stroke-width="0.9"/>
<line x1="399.2" y1="419" x2="401.4" y2="419" stroke="#999" stroke-width="0.6"/>
<text x="397.3" y="421.2" font-size="6" fill="#333" text-anchor="end">10.0</text>
<line x1="399.2" y1="386.5" x2="401.4" y2="386.5" stroke="#999" stroke-width="0.6"/>
<text x="397.3" y="388.7" font-size="6" fill="#333" text-anchor="end">10.5</text>
<line x1="399.2" y1="354.2" x2="401.4" y2="354.2" stroke="#999" stroke-width="0.6"/>
<text x="397.3" y="356.4" font-size="6" fill="#333" text-anchor="end">11.0</text>
<line x1="399.2" y1="321.7" x2="401.4" y2="321.7" stroke="#999" stroke-width="0.6"/>
<text x="397.3" y="323.9" font-size="6" fill="#333" text-anchor="end">11.5</text>
<line x1="399.2" y1="289.5" x2="401.4" y2="289.5" stroke="#999" stroke-width="0.6"/>
<text x="397.3" y="291.7" font-size="6" fill="#333" text-anchor="end">12.0</text>
<line x1="401.4" y1="420.3" x2="401.4" y2="422.3" stroke="#999" stroke-width="0.6"/>
<text x="0" y="0" font-size="5.2" fill="#111" textLength="16.8" lengthAdjust="spacingAndGlyphs" transform="translate(399.2,426.5) rotate(45)">2020-w01</text>
<line x1="419.7" y1="420.3" x2="419.7" y2="422.3" stroke="#999" stroke-width="0.6"/>
<text x="0" y="0" font-size="5.2" fill="#111" textLength="16.8" lengthAdjust="spacingAndGlyphs" transform="translate(417.5,426.5) rotate(45)">2020-w09</text>
<line x1="472.3" y1="420.3" x2="472.3" y2="422.3" stroke="#999" stroke-width="0.6"/>
<text x="0" y="0" font-size="5.2" fill="#111" textLength="16.8" lengthAdjust="spacingAndGlyphs" transform="translate(470.1,426.5) rotate(45)">2020-w32</text>
<line x1="547.4" y1="420.3" x2="547.4" y2="422.3" stroke="#999" stroke-width="0.6"/>
<text x="0" y="0" font-size="5.2" fill="#111" textLength="16.8" lengthAdjust="spacingAndGlyphs" transform="translate(545.2,426.5) rotate(45)">2021-w12</text>
<line x1="631.3" y1="420.3" x2="631.3" y2="422.3" stroke="#999" stroke-width="0.6"/>
<text x="0" y="0" font-size="5.2" fill="#111" textLength="16.8" lengthAdjust="spacingAndGlyphs" transform="translate(629.1,426.5) rotate(45)">2021-w49</text>
<line x1="665.6" y1="420.3" x2="665.6" y2="422.3" stroke="#999" stroke-width="0.6"/>
<text x="0" y="0" font-size="5.2" fill="#111" textLength="16.8" lengthAdjust="spacingAndGlyphs" transform="translate(663.4,426.5) rotate(45)">2022-w12</text>
<text x="0" y="0" font-size="6.6" fill="#222" text-anchor="middle" textLength="131" lengthAdjust="spacingAndGlyphs" transform="translate(377.9,353.7) rotate(-90)">Adjusted weekly proportion of prevalent users (/100)</text>
<text x="423.4" y="415.3" font-size="11.6" fill="#a9a9a9" text-anchor="start" textLength="42.3" lengthAdjust="spacingAndGlyphs">Period 1</text>
<text x="492.9" y="413.3" font-size="11.6" fill="#a9a9a9" text-anchor="start" textLength="42.7" lengthAdjust="spacingAndGlyphs">Period 2</text>
<text x="570.7" y="413.3" font-size="11.6" fill="#a9a9a9" text-anchor="start" textLength="42.7" lengthAdjust="spacingAndGlyphs">Period 3</text>
<text x="635.6" y="413.3" font-size="11.6" fill="#a9a9a9" text-anchor="start" textLength="41.5" lengthAdjust="spacingAndGlyphs">Period 4</text>
<text x="520" y="447" font-size="6.3" fill="#222" text-anchor="start" textLength="27" lengthAdjust="spacingAndGlyphs">CDC week</text>
<line x1="49.4" y1="639.6" x2="312.8" y2="639.6" stroke="#ececec" stroke-width="0.8"/>
<line x1="49.4" y1="600.9" x2="312.8" y2="600.9" stroke="#ececec" stroke-width="0.8"/>
<line x1="49.4" y1="562.4" x2="312.8" y2="562.4" stroke="#ececec" stroke-width="0.8"/>
<line x1="49.4" y1="523.7" x2="312.8" y2="523.7" stroke="#ececec" stroke-width="0.8"/>
<line x1="312.8" y1="521" x2="312.8" y2="659.8" stroke="#ececec" stroke-width="0.8"/>
<path d="M49.4,586.6 C49.8,579.8 51.2,552.6 51.6,545.8 L51.6,545.8 C52.7,547.1 55.4,550.6 58.1,553.8 C60.9,557 64.8,561.4 68.1,564.9 C71.4,568.4 75.1,572.2 78.1,574.9 C81.1,577.6 83.5,578.7 86.2,580.9 C88.9,583.1 91.5,584.7 94.2,587.9 C96.9,591.1 99.9,596.5 102.2,600 C104.5,603.5 106.3,606.6 108.3,609 C110.3,611.4 112.6,613.5 114.3,614.5 C116,615.5 116.8,615.5 118.3,615.1 C119.8,614.7 121.3,614.1 123.3,612.1 C125.3,610.1 128.3,606.4 130.4,603 C132.5,599.6 133.7,595.1 136,591.9 C138.3,588.7 141.1,586.1 144.1,583.9 C147.1,581.7 151.1,580.5 154.1,578.9 C157.1,577.3 160.8,575.1 162.1,574.3 L162.1,574.3 C162.6,579.6 164.4,600.7 164.8,606 L164.8,606 C165.1,606 166.5,606 166.8,606 L166.8,606 C167.3,595.9 169.3,555.4 169.8,545.3 L169.8,545.3 C171.2,546.9 175.5,551.7 178.2,554.8 C180.9,557.9 183.5,560.8 186.2,563.8 C188.9,566.8 191.3,570 194.3,572.9 C197.3,575.8 201.3,578.6 204.3,580.9 C207.3,583.2 209.6,583.7 212.4,586.9 C215.2,590.1 218.6,596.4 221,600.1 C223.4,603.8 225.1,606.7 227.1,609.2 C229.1,611.7 231.4,614 233.1,615.2 C234.8,616.4 235.8,616.6 237.1,616.6 C238.4,616.6 239.5,616.6 241.2,615.2 C242.9,613.8 245.2,610.7 247.2,608.2 C249.2,605.7 251.2,602.8 253.2,600.1 C255.2,597.4 257.3,594.3 259.3,592.1 C261.3,589.9 263,588.7 265.3,587.1 C267.6,585.5 270.9,583.9 273.4,582.4 C275.9,580.9 279.2,578.7 280.4,578 L280.4,578 C280.9,583.4 282.9,604.8 283.4,610.2 L283.4,610.2 C283.7,610.2 284.7,610.2 285,610.2 L285,610.2 C285.5,599.8 287.3,558.2 287.8,547.8 L287.8,547.8 C289.1,549.3 292.9,553.7 295.5,556.9 C298.1,560.1 300.6,563.8 303.5,566.9 C306.4,570 311.2,574.1 312.8,575.6 L312.8,582.4 C311.2,580.9 306.4,576.8 303.5,573.7 C300.6,570.6 298.1,566.9 295.5,563.7 C292.9,560.5 289.1,556.1 287.8,554.6 L287.8,554.6 C287.3,565 285.5,606.6 285,617 L285,617 C284.7,617 283.7,617 283.4,617 L283.4,617 C282.9,611.6 280.9,590.2 280.4,584.8 L280.4,584.8 C279.2,585.5 275.9,587.7 273.4,589.2 C270.9,590.7 267.6,592.3 265.3,593.9 C263,595.5 261.3,596.7 259.3,598.9 C257.3,601.1 255.2,604.2 253.2,606.9 C251.2,609.6 249.2,612.5 247.2,615 C245.2,617.5 242.9,620.6 241.2,622 C239.5,623.4 238.4,623.4 237.1,623.4 C235.8,623.4 234.8,623.2 233.1,622 C231.4,620.8 229.1,618.5 227.1,616 C225.1,613.5 223.4,610.6 221,606.9 C218.6,603.2 215.2,596.9 212.4,593.7 C209.6,590.5 207.3,590 204.3,587.7 C201.3,585.4 197.3,582.5 194.3,579.7 C191.3,576.8 188.9,573.6 186.2,570.6 C183.5,567.6 180.9,564.7 178.2,561.6 C175.5,558.5 171.2,553.7 169.8,552.1 L169.8,552.1 C169.3,562.2 167.3,602.7 166.8,612.8 L166.8,612.8 C166.5,612.8 165.1,612.8 164.8,612.8 L164.8,612.8 C164.4,607.5 162.6,586.4 162.1,581.1 L162.1,581.1 C160.8,581.9 157.1,584.1 154.1,585.7 C151.1,587.3 147.1,588.5 144.1,590.7 C141.1,592.9 138.3,595.5 136,598.7 C133.7,601.9 132.5,606.4 130.4,609.8 C128.3,613.2 125.3,616.9 123.3,618.9 C121.3,620.9 119.8,621.5 118.3,621.9 C116.8,622.3 116,622.3 114.3,621.3 C112.6,620.3 110.3,618.2 108.3,615.8 C106.3,613.4 104.5,610.3 102.2,606.8 C99.9,603.3 96.9,597.9 94.2,594.7 C91.5,591.5 88.9,589.9 86.2,587.7 C83.5,585.5 81.1,584.4 78.1,581.7 C75.1,579 71.4,575.2 68.1,571.7 C64.8,568.2 60.9,563.8 58.1,560.6 C55.4,557.4 52.7,553.9 51.6,552.6 L51.6,552.6 C51.2,559.4 49.8,586.6 49.4,593.4 Z" fill="#fcc7b3"/>
<path d="M49.4,590 C49.8,583.2 51.2,556 51.6,549.2 L51.6,549.2 C52.7,550.5 55.4,554 58.1,557.2 C60.9,560.4 64.8,564.8 68.1,568.3 C71.4,571.8 75.1,575.6 78.1,578.3 C81.1,581 83.5,582.1 86.2,584.3 C88.9,586.5 91.5,588.1 94.2,591.3 C96.9,594.5 99.9,599.9 102.2,603.4 C104.5,606.9 106.3,610 108.3,612.4 C110.3,614.8 112.6,616.9 114.3,617.9 C116,618.9 116.8,618.9 118.3,618.5 C119.8,618.1 121.3,617.5 123.3,615.5 C125.3,613.5 128.3,609.8 130.4,606.4 C132.5,603 133.7,598.5 136,595.3 C138.3,592.1 141.1,589.5 144.1,587.3 C147.1,585.1 151.1,583.9 154.1,582.3 C157.1,580.7 160.8,578.5 162.1,577.7 L162.1,577.7 C162.6,583 164.4,604.1 164.8,609.4 L164.8,609.4 C165.1,609.4 166.5,609.4 166.8,609.4 L166.8,609.4 C167.3,599.3 169.3,558.8 169.8,548.7 L169.8,548.7 C171.2,550.3 175.5,555.1 178.2,558.2 C180.9,561.3 183.5,564.2 186.2,567.2 C188.9,570.2 191.3,573.4 194.3,576.3 C197.3,579.1 201.3,582 204.3,584.3 C207.3,586.6 209.6,587.1 212.4,590.3 C215.2,593.5 218.6,599.8 221,603.5 C223.4,607.2 225.1,610.1 227.1,612.6 C229.1,615.1 231.4,617.4 233.1,618.6 C234.8,619.8 235.8,620 237.1,620 C238.4,620 239.5,620 241.2,618.6 C242.9,617.2 245.2,614.1 247.2,611.6 C249.2,609.1 251.2,606.2 253.2,603.5 C255.2,600.8 257.3,597.7 259.3,595.5 C261.3,593.3 263,592.1 265.3,590.5 C267.6,588.9 270.9,587.3 273.4,585.8 C275.9,584.3 279.2,582.1 280.4,581.4 L280.4,581.4 C280.9,586.8 282.9,608.2 283.4,613.6 L283.4,613.6 C283.7,613.6 284.7,613.6 285,613.6 L285,613.6 C285.5,603.2 287.3,561.6 287.8,551.2 L287.8,551.2 C289.1,552.7 292.9,557.1 295.5,560.3 C298.1,563.5 300.6,567.2 303.5,570.3 C306.4,573.4 311.2,577.5 312.8,579" fill="none" stroke="#6882c0" stroke-width="1.2" stroke-linejoin="round"/>
<polyline points="49.4,592 51.6,527.1 53,539.1 54,553.2 57.1,559.2 60.1,566.3 64.1,570.3 67.1,575.3 68.5,582.4 70.1,589.4 71.7,587.4 73.1,599.4 75.1,617.5 77.1,631.6 80.2,642.6 83.2,648.6 86.2,645.6 89.2,645.6 91.8,643.6 94.6,651.6 97.2,645.6 100.2,640.6 103.3,639.2 106.3,643.2 108.7,637.6 111.3,631.6 114.3,635.6 117.3,635.2 120.3,634.6 123.3,631.6 126.4,629.6 128.4,628.6 130.4,635.6 132.4,625.6 135,623.5 138,621.1 140.4,624.5 142.5,631.5 145.1,623.5 148.1,626.5 151.1,625.5 154.1,625.1 158.1,624.5 162.1,623.5 163.7,631.5 165.6,645.6 167.2,657.6 168.6,643.6 170.2,628.5 173.2,627.5 176.6,625.5 179.2,629.5 182.2,628.5 184.6,627.5 186.9,633.5 189.3,624.5 192.3,623.5 194.7,622.5 196.7,627.5 199.3,630.5 201.3,620.5 203.9,618.5 208.3,617.9 212.4,621.5 214.8,628.5 217,618.6 219.4,617.6 222,616.6 224.1,628.7 226.7,621.6 228.7,611.6 231.1,614.6 234.1,620.6 237.1,624.7 240.2,621.6 243.2,617.6 246.2,613.6 248.8,618.6 250.8,608.6 253.2,603.5 256.2,599.5 258.9,597.5 260.9,605.5 262.9,594.5 266.3,592.5 270.3,591.5 273.4,595.5 276.4,594.5 279,596.5 280.4,591.5 282.4,601.5 283.8,623.7 285.4,637.7 287.4,617.6 289.8,608.6 291.9,617.6 294.5,618.6 297.5,620.6 300.5,622.6 303.5,623.7 305.5,627.3 307.9,619.6 310.6,613.6 312.8,612.6" fill="none" stroke="#828282" stroke-width="1.1" stroke-linejoin="round"/>
<line x1="67.4" y1="521" x2="67.4" y2="659.8" stroke="#606060" stroke-width="0.85" stroke-dasharray="1.8,1.4"/>
<line x1="119.3" y1="521" x2="119.3" y2="659.8" stroke="#606060" stroke-width="0.85" stroke-dasharray="1.8,1.4"/>
<line x1="194.7" y1="521" x2="194.7" y2="659.8" stroke="#606060" stroke-width="0.85" stroke-dasharray="1.8,1.4"/>
<line x1="278.8" y1="521" x2="278.8" y2="659.8" stroke="#606060" stroke-width="0.85" stroke-dasharray="1.8,1.4"/>
<line x1="49.4" y1="521" x2="49.4" y2="659.8" stroke="#c9ced6" stroke-width="0.9"/>
<line x1="49.4" y1="659.8" x2="312.8" y2="659.8" stroke="#c9ced6" stroke-width="0.9"/>
<line x1="47.2" y1="639.6" x2="49.4" y2="639.6" stroke="#999" stroke-width="0.6"/>
<text x="45.3" y="641.8" font-size="6" fill="#333" text-anchor="end">200</text>
<line x1="47.2" y1="600.9" x2="49.4" y2="600.9" stroke="#999" stroke-width="0.6"/>
<text x="45.3" y="603.1" font-size="6" fill="#333" text-anchor="end">300</text>
<line x1="47.2" y1="562.4" x2="49.4" y2="562.4" stroke="#999" stroke-width="0.6"/>
<text x="45.3" y="564.6" font-size="6" fill="#333" text-anchor="end">400</text>
<line x1="47.2" y1="523.7" x2="49.4" y2="523.7" stroke="#999" stroke-width="0.6"/>
<text x="45.3" y="525.9" font-size="6" fill="#333" text-anchor="end">500</text>
<line x1="49.4" y1="659.8" x2="49.4" y2="661.8" stroke="#999" stroke-width="0.6"/>
<text x="0" y="0" font-size="5.2" fill="#111" textLength="16.8" lengthAdjust="spacingAndGlyphs" transform="translate(47.2,666) rotate(45)">2020-w01</text>
<line x1="67.4" y1="659.8" x2="67.4" y2="661.8" stroke="#999" stroke-width="0.6"/>
<text x="0" y="0" font-size="5.2" fill="#111" textLength="16.8" lengthAdjust="spacingAndGlyphs" transform="translate(65.2,666) rotate(45)">2020-w08</text>
<line x1="119.3" y1="659.8" x2="119.3" y2="661.8" stroke="#999" stroke-width="0.6"/>
<text x="0" y="0" font-size="5.2" fill="#111" textLength="16.8" lengthAdjust="spacingAndGlyphs" transform="translate(117.1,666) rotate(45)">2020-w32</text>
<line x1="194.7" y1="659.8" x2="194.7" y2="661.8" stroke="#999" stroke-width="0.6"/>
<text x="0" y="0" font-size="5.2" fill="#111" textLength="16.8" lengthAdjust="spacingAndGlyphs" transform="translate(192.5,666) rotate(45)">2021-w12</text>
<line x1="278.8" y1="659.8" x2="278.8" y2="661.8" stroke="#999" stroke-width="0.6"/>
<text x="0" y="0" font-size="5.2" fill="#111" textLength="16.8" lengthAdjust="spacingAndGlyphs" transform="translate(276.6,666) rotate(45)">2021-w48</text>
<line x1="312.8" y1="659.8" x2="312.8" y2="661.8" stroke="#999" stroke-width="0.6"/>
<text x="0" y="0" font-size="5.2" fill="#111" textLength="16.8" lengthAdjust="spacingAndGlyphs" transform="translate(310.6,666) rotate(45)">2022-w12</text>
<text x="0" y="0" font-size="6.6" fill="#222" text-anchor="middle" textLength="122.2" lengthAdjust="spacingAndGlyphs" transform="translate(27.7,590.5) rotate(-90)">Adjusted weekly proportion of new users (/100 000)</text>
<text x="71.3" y="534" font-size="11.6" fill="#a9a9a9" text-anchor="start" textLength="41.7" lengthAdjust="spacingAndGlyphs">Period 1</text>
<text x="142.7" y="534" font-size="11.6" fill="#a9a9a9" text-anchor="start" textLength="42.3" lengthAdjust="spacingAndGlyphs">Period 2</text>
<text x="220.2" y="534" font-size="11.6" fill="#a9a9a9" text-anchor="start" textLength="42.3" lengthAdjust="spacingAndGlyphs">Period 3</text>
<text x="284.2" y="534" font-size="11.6" fill="#a9a9a9" text-anchor="start" textLength="42.3" lengthAdjust="spacingAndGlyphs">Period 4</text>
<text x="167" y="687.5" font-size="6.3" fill="#222" text-anchor="start" textLength="24" lengthAdjust="spacingAndGlyphs">CDC week</text>
<line x1="401.4" y1="660" x2="663.1" y2="660" stroke="#ececec" stroke-width="0.8"/>
<line x1="401.4" y1="634.2" x2="663.1" y2="634.2" stroke="#ececec" stroke-width="0.8"/>
<line x1="401.4" y1="609" x2="663.1" y2="609" stroke="#ececec" stroke-width="0.8"/>
<line x1="401.4" y1="583.5" x2="663.1" y2="583.5" stroke="#ececec" stroke-width="0.8"/>
<line x1="401.4" y1="557.7" x2="663.1" y2="557.7" stroke="#ececec" stroke-width="0.8"/>
<line x1="401.4" y1="532.5" x2="663.1" y2="532.5" stroke="#ececec" stroke-width="0.8"/>
<line x1="663.1" y1="521" x2="663.1" y2="660.6" stroke="#ececec" stroke-width="0.8"/>
<path d="M401.6,556.9 C401.9,551.9 403.3,532 403.6,527 L403.6,527 C404.7,528 407.7,530.7 410.1,533 C412.5,535.3 415.1,538 418.1,541 C421.1,544 424.8,547.6 428.1,551.1 C431.5,554.6 435.2,558.2 438.2,562.1 C441.2,566 443.5,569.2 446.2,574.2 C448.9,579.2 451.5,586.6 454.2,592.3 C456.9,598 459.9,604.3 462.3,608.3 C464.7,612.3 466.6,615.4 468.3,616.4 C470,617.4 470.6,616.4 472.3,614.4 C474,612.4 476.6,607.8 478.4,604.3 C480.2,600.8 481.2,597.6 483,593.3 C484.8,588.9 486.6,582.7 489,578.2 C491.4,573.7 494.4,569.6 497.1,566.1 C499.8,562.6 502.4,560.1 505.1,557.1 C507.8,554.1 512.1,549.6 513.5,548.1 L513.5,548.1 C514,551.4 516,564.8 516.5,568.1 L516.5,568.1 C516.8,567.8 517.9,566.4 518.2,566.1 L518.2,566.1 C518.6,560.4 520.4,537.7 520.8,532 L520.8,532 C522.2,533.3 526.1,537 529.2,540 C532.3,543 536.2,547.2 539.2,550.1 C542.2,553 544.3,554.6 547.3,557.1 C550.3,559.6 554.3,562.2 557.3,565.1 C560.3,568 562.6,569 565.4,574.2 C568.2,579.4 571.5,590 574,596.4 C576.5,602.8 578.2,608.5 580.1,612.5 C582,616.5 583.6,619.1 585.1,620.6 C586.6,622.1 587.6,622.3 589.1,621.6 C590.6,620.9 592.4,619.4 594.2,616.5 C596.1,613.6 597.9,609.2 600.2,604.5 C602.5,599.8 605.5,592.9 608.2,588.4 C610.9,583.9 613.6,580.7 616.3,577.3 C619,573.9 621.9,571.3 624.3,568.2 C626.7,565.1 629.7,560.2 630.8,558.6 L630.8,558.6 C631.3,561.9 633.1,575 633.6,578.3 L633.6,578.3 C633.9,578 635.3,576.6 635.6,576.3 L635.6,576.3 C636.1,570.3 637.9,546.1 638.4,540.1 L638.4,540.1 C640.1,541.6 644.4,545.4 648.5,549.1 C652.6,552.8 660.7,560.2 663.1,562.4 L663.1,568.6 C660.7,566.4 652.6,559 648.5,555.3 C644.4,551.6 640.1,547.8 638.4,546.3 L638.4,546.3 C637.9,552.3 636.1,576.5 635.6,582.5 L635.6,582.5 C635.3,582.8 633.9,584.2 633.6,584.5 L633.6,584.5 C633.1,581.2 631.3,568.1 630.8,564.8 L630.8,564.8 C629.7,566.4 626.7,571.3 624.3,574.4 C621.9,577.5 619,580.1 616.3,583.5 C613.6,586.9 610.9,590.1 608.2,594.6 C605.5,599.1 602.5,606 600.2,610.7 C597.9,615.4 596.1,619.9 594.2,622.7 C592.4,625.6 590.6,627.1 589.1,627.8 C587.6,628.5 586.6,628.3 585.1,626.8 C583.6,625.3 582,622.7 580.1,618.7 C578.2,614.7 576.5,609 574,602.6 C571.5,596.2 568.2,585.6 565.4,580.4 C562.6,575.2 560.3,574.2 557.3,571.3 C554.3,568.5 550.3,565.8 547.3,563.3 C544.3,560.8 542.2,559.2 539.2,556.3 C536.2,553.5 532.3,549.2 529.2,546.2 C526.1,543.2 522.2,539.5 520.8,538.2 L520.8,538.2 C520.4,543.9 518.6,566.6 518.2,572.3 L518.2,572.3 C517.9,572.6 516.8,574 516.5,574.3 L516.5,574.3 C516,571 514,557.6 513.5,554.3 L513.5,554.3 C512.1,555.8 507.8,560.3 505.1,563.3 C502.4,566.3 499.8,568.8 497.1,572.3 C494.4,575.8 491.4,579.9 489,584.4 C486.6,588.9 484.8,595.1 483,599.5 C481.2,603.9 480.2,607 478.4,610.5 C476.6,614 474,618.6 472.3,620.6 C470.6,622.6 470,623.6 468.3,622.6 C466.6,621.6 464.7,618.5 462.3,614.5 C459.9,610.5 456.9,604.2 454.2,598.5 C451.5,592.8 448.9,585.4 446.2,580.4 C443.5,575.4 441.2,572.2 438.2,568.3 C435.2,564.5 431.5,560.8 428.1,557.3 C424.8,553.8 421.1,550.2 418.1,547.2 C415.1,544.2 412.5,541.5 410.1,539.2 C407.7,536.9 404.7,534.2 403.6,533.2 L403.6,533.2 C403.3,538.2 401.9,558.1 401.6,563.1 Z" fill="#fcc7b3"/>
<path d="M401.6,560 C401.9,555 403.3,535.1 403.6,530.1 L403.6,530.1 C404.7,531.1 407.7,533.8 410.1,536.1 C412.5,538.4 415.1,541.1 418.1,544.1 C421.1,547.1 424.8,550.7 428.1,554.2 C431.5,557.7 435.2,561.4 438.2,565.2 C441.2,569.1 443.5,572.3 446.2,577.3 C448.9,582.3 451.5,589.7 454.2,595.4 C456.9,601.1 459.9,607.4 462.3,611.4 C464.7,615.4 466.6,618.5 468.3,619.5 C470,620.5 470.6,619.5 472.3,617.5 C474,615.5 476.6,610.9 478.4,607.4 C480.2,603.9 481.2,600.8 483,596.4 C484.8,592 486.6,585.8 489,581.3 C491.4,576.8 494.4,572.7 497.1,569.2 C499.8,565.7 502.4,563.2 505.1,560.2 C507.8,557.2 512.1,552.7 513.5,551.2 L513.5,551.2 C514,554.5 516,567.9 516.5,571.2 L516.5,571.2 C516.8,570.9 517.9,569.5 518.2,569.2 L518.2,569.2 C518.6,563.5 520.4,540.8 520.8,535.1 L520.8,535.1 C522.2,536.4 526.1,540.1 529.2,543.1 C532.3,546.1 536.2,550.4 539.2,553.2 C542.2,556.1 544.3,557.7 547.3,560.2 C550.3,562.7 554.3,565.4 557.3,568.2 C560.3,571.1 562.6,572.1 565.4,577.3 C568.2,582.5 571.5,593.1 574,599.5 C576.5,605.9 578.2,611.6 580.1,615.6 C582,619.6 583.6,622.2 585.1,623.7 C586.6,625.2 587.6,625.4 589.1,624.7 C590.6,624 592.4,622.5 594.2,619.6 C596.1,616.8 597.9,612.3 600.2,607.6 C602.5,602.9 605.5,596 608.2,591.5 C610.9,587 613.6,583.8 616.3,580.4 C619,577 621.9,574.4 624.3,571.3 C626.7,568.2 629.7,563.3 630.8,561.7 L630.8,561.7 C631.3,565 633.1,578.1 633.6,581.4 L633.6,581.4 C633.9,581.1 635.3,579.7 635.6,579.4 L635.6,579.4 C636.1,573.4 637.9,549.2 638.4,543.2 L638.4,543.2 C640.1,544.7 644.4,548.5 648.5,552.2 C652.6,555.9 660.7,563.3 663.1,565.5" fill="none" stroke="#6882c0" stroke-width="1.2" stroke-linejoin="round"/>
<path d="M401.6,573.3 C401.9,566.9 402.9,543.3 403.6,535.1 C404.3,526.9 404.9,525.7 405.6,524 C406.3,522.3 406.9,523.5 407.6,525 C408.3,526.5 408.9,530.2 409.7,533.1 C410.4,536 411.2,539.2 412.1,542.1 C413,545 414.1,548 415.1,550.2 C416.1,552.4 417.3,554 418.1,555.2 C418.9,556.4 419,555.7 419.7,557.2 C420.4,558.7 421.2,561.5 422.1,564.2 C423,566.9 424.1,569.1 425.1,573.3 C426.1,577.5 427.1,582.9 428.1,589.3 C429.1,595.6 430.2,604 431.1,611.4 C432.1,618.8 433,628 433.8,633.5 C434.6,639 435.1,642.4 436.2,644.6 C437.3,646.8 438.9,645.4 440.2,646.6 C441.5,647.8 442.8,649.7 444.2,651.6 C445.6,653.5 447.4,657.5 448.6,658 C449.8,658.5 450.3,655.7 451.2,654.6 C452.1,653.5 453,651.4 454.2,651.6 C455.4,651.8 456.9,655.8 458.3,655.6 C459.7,655.4 461,651.9 462.3,650.6 C463.6,649.3 465,647.6 466.3,647.6 C467.6,647.6 469,650.6 470.3,650.6 C471.6,650.6 472.6,649.3 474.3,647.6 C476,645.9 478.9,641.4 480.4,640.6 C481.8,639.8 482.1,643.5 483,642.6 C483.9,641.8 485,637.9 486,635.5 C487,633.1 488.1,629.9 489,628.5 C489.9,627.1 490.6,626.1 491.4,627.1 C492.2,628.1 493.1,633.4 494,634.5 C494.9,635.6 496.1,633.5 497.1,633.5 C498.1,633.5 498.9,634.2 500.1,634.5 C501.3,634.8 502.8,635.5 504.1,635.5 C505.4,635.5 506.8,635 508.1,634.5 C509.4,634 511.1,633.2 512.1,632.5 C513.1,631.8 513.5,629.3 514.1,630.5 C514.7,631.7 515,636 515.5,639.5 C516,643 516.6,648.4 517.2,651.6 C517.8,654.8 518.5,658.6 519.2,658.6 C519.9,658.6 520.7,654.6 521.6,651.6 C522.5,648.6 523.7,642.1 524.8,640.6 C525.9,639.1 527,641.9 528.2,642.6 C529.4,643.3 531,644.1 532.2,644.6 C533.4,645.1 534.2,645.1 535.2,645.6 C536.2,646.1 537,647.6 538.2,647.6 C539.4,647.6 541,646.3 542.3,645.6 C543.5,644.9 544.5,643.3 545.7,643.6 C546.9,643.9 548.2,647.6 549.3,647.6 C550.4,647.6 551,644.8 552.3,643.6 C553.6,642.4 555.8,640.9 557.3,640.6 C558.8,640.3 559.9,640.8 561.3,641.6 C562.6,642.4 564.3,645.2 565.4,645.6 C566.5,646 566.9,644.4 568,643.8 C569.1,643.2 570.5,641 572,641.8 C573.5,642.6 575.4,649 577.1,648.8 C578.8,648.6 580.8,642 582.1,640.8 C583.4,639.6 583.8,640.6 585.1,641.8 C586.4,643 588.6,647.5 590.1,648.2 C591.6,648.9 592.9,647.1 594.2,645.8 C595.6,644.5 597,641.9 598.2,640.2 C599.4,638.5 600,638.5 601.2,635.7 C602.4,633 603.9,626.5 605.2,623.7 C606.5,621 608.2,619.8 609.2,619.2 C610.2,618.6 610.3,621.1 611.3,620 C612.3,618.9 614,614.2 615.3,612.6 C616.6,611 618,610.9 619.3,610.6 C620.6,610.3 621.9,610.3 623.3,610.6 C624.6,610.9 626.4,612.4 627.4,612.6 C628.4,612.8 628.7,612.1 629.4,611.6 C630.1,611.1 630.7,609.3 631.4,609.6 C632.1,609.9 632.7,610.6 633.4,613.6 C634.1,616.6 634.6,623.5 635.4,627.7 C636.2,631.9 637.6,637.5 638.4,638.7 C639.2,639.9 639.7,635.9 640.4,634.7 C641.1,633.5 641.8,631.3 642.8,631.3 C643.8,631.3 645.2,633.6 646.5,634.7 C647.8,635.8 649.3,636.9 650.5,637.7 C651.7,638.6 652.5,638.8 653.5,639.8 C654.5,640.8 655.5,643.8 656.5,643.8 C657.5,643.8 658.5,641.6 659.5,639.8 C660.5,637.9 662.1,633.9 662.6,632.7" fill="none" stroke="#828282" stroke-width="1.15" stroke-linejoin="round"/>
<line x1="419.2" y1="521" x2="419.2" y2="660.6" stroke="#606060" stroke-width="0.85" stroke-dasharray="1.8,1.4"/>
<line x1="471.2" y1="521" x2="471.2" y2="660.6" stroke="#606060" stroke-width="0.85" stroke-dasharray="1.8,1.4"/>
<line x1="545.1" y1="521" x2="545.1" y2="660.6" stroke="#606060" stroke-width="0.85" stroke-dasharray="1.8,1.4"/>
<line x1="629.2" y1="521" x2="629.2" y2="660.6" stroke="#606060" stroke-width="0.85" stroke-dasharray="1.8,1.4"/>
<line x1="401.4" y1="521" x2="401.4" y2="660.6" stroke="#c9ced6" stroke-width="0.9"/>
<line x1="401.4" y1="660.6" x2="663.1" y2="660.6" stroke="#c9ced6" stroke-width="0.9"/>
<line x1="399.2" y1="660" x2="401.4" y2="660" stroke="#999" stroke-width="0.6"/>
<text x="397.3" y="662.2" font-size="6" fill="#333" text-anchor="end">1.75</text>
<line x1="399.2" y1="634.2" x2="401.4" y2="634.2" stroke="#999" stroke-width="0.6"/>
<text x="397.3" y="636.4" font-size="6" fill="#333" text-anchor="end">2.00</text>
<line x1="399.2" y1="609" x2="401.4" y2="609" stroke="#999" stroke-width="0.6"/>
<text x="397.3" y="611.2" font-size="6" fill="#333" text-anchor="end">2.25</text>
<line x1="399.2" y1="583.5" x2="401.4" y2="583.5" stroke="#999" stroke-width="0.6"/>
<text x="397.3" y="585.7" font-size="6" fill="#333" text-anchor="end">2.50</text>
<line x1="399.2" y1="557.7" x2="401.4" y2="557.7" stroke="#999" stroke-width="0.6"/>
<text x="397.3" y="559.9" font-size="6" fill="#333" text-anchor="end">2.75</text>
<line x1="399.2" y1="532.5" x2="401.4" y2="532.5" stroke="#999" stroke-width="0.6"/>
<text x="397.3" y="534.7" font-size="6" fill="#333" text-anchor="end">3.00</text>
<line x1="401.4" y1="660.6" x2="401.4" y2="662.6" stroke="#999" stroke-width="0.6"/>
<text x="0" y="0" font-size="5.2" fill="#111" textLength="16.8" lengthAdjust="spacingAndGlyphs" transform="translate(399.2,666.8) rotate(45)">2020-w01</text>
<line x1="419.2" y1="660.6" x2="419.2" y2="662.6" stroke="#999" stroke-width="0.6"/>
<text x="0" y="0" font-size="5.2" fill="#111" textLength="16.8" lengthAdjust="spacingAndGlyphs" transform="translate(417,666.8) rotate(45)">2020-w08</text>
<line x1="471.2" y1="660.6" x2="471.2" y2="662.6" stroke="#999" stroke-width="0.6"/>
<text x="0" y="0" font-size="5.2" fill="#111" textLength="16.8" lengthAdjust="spacingAndGlyphs" transform="translate(469,666.8) rotate(45)">2020-w32</text>
<line x1="545.1" y1="660.6" x2="545.1" y2="662.6" stroke="#999" stroke-width="0.6"/>
<text x="0" y="0" font-size="5.2" fill="#111" textLength="16.8" lengthAdjust="spacingAndGlyphs" transform="translate(542.9,666.8) rotate(45)">2021-w12</text>
<line x1="629.2" y1="660.6" x2="629.2" y2="662.6" stroke="#999" stroke-width="0.6"/>
<text x="0" y="0" font-size="5.2" fill="#111" textLength="16.8" lengthAdjust="spacingAndGlyphs" transform="translate(627,666.8) rotate(45)">2021-w48</text>
<line x1="663.1" y1="660.6" x2="663.1" y2="662.6" stroke="#999" stroke-width="0.6"/>
<text x="0" y="0" font-size="5.2" fill="#111" textLength="16.8" lengthAdjust="spacingAndGlyphs" transform="translate(660.9,666.8) rotate(45)">2022-w12</text>
<text x="0" y="0" font-size="6.6" fill="#222" text-anchor="middle" textLength="124.1" lengthAdjust="spacingAndGlyphs" transform="translate(377.7,590.8) rotate(-90)">Adjusted weekly proportion of prevalent users (/100)</text>
<text x="423.4" y="525.3" font-size="11.6" fill="#a9a9a9" text-anchor="start" textLength="42.3" lengthAdjust="spacingAndGlyphs">Period 1</text>
<text x="492.1" y="524.5" font-size="11.6" fill="#a9a9a9" text-anchor="start" textLength="43.1" lengthAdjust="spacingAndGlyphs">Period 2</text>
<text x="570.3" y="524.5" font-size="11.6" fill="#a9a9a9" text-anchor="start" textLength="42.3" lengthAdjust="spacingAndGlyphs">Period 3</text>
<text x="634.7" y="524.2" font-size="11.6" fill="#a9a9a9" text-anchor="start" textLength="42" lengthAdjust="spacingAndGlyphs">Period 4</text>
<text x="519.3" y="688.5" font-size="6.3" fill="#222" text-anchor="start" textLength="25" lengthAdjust="spacingAndGlyphs">CDC week</text>
<line x1="139.4" y1="714" x2="192.8" y2="714" stroke="#808080" stroke-width="1.9"/>
<text x="199.7" y="718.2" font-size="12" fill="#222" text-anchor="start" textLength="51.5" lengthAdjust="spacingAndGlyphs">Observed</text>
<line x1="261.8" y1="714" x2="315.2" y2="714" stroke="#4a78c8" stroke-width="1.9"/>
<text x="322" y="718.2" font-size="12" fill="#222" text-anchor="start" textLength="48.8" lengthAdjust="spacingAndGlyphs">Expected</text>
<rect x="382.2" y="709.6" width="10.7" height="9.4" fill="#fcc6b1" stroke="#333" stroke-width="0.8"/>
<text x="399" y="718.2" font-size="12" fill="#222" text-anchor="start" textLength="122.1" lengthAdjust="spacingAndGlyphs">99% prediction interval</text>
</svg>
</body></html>
